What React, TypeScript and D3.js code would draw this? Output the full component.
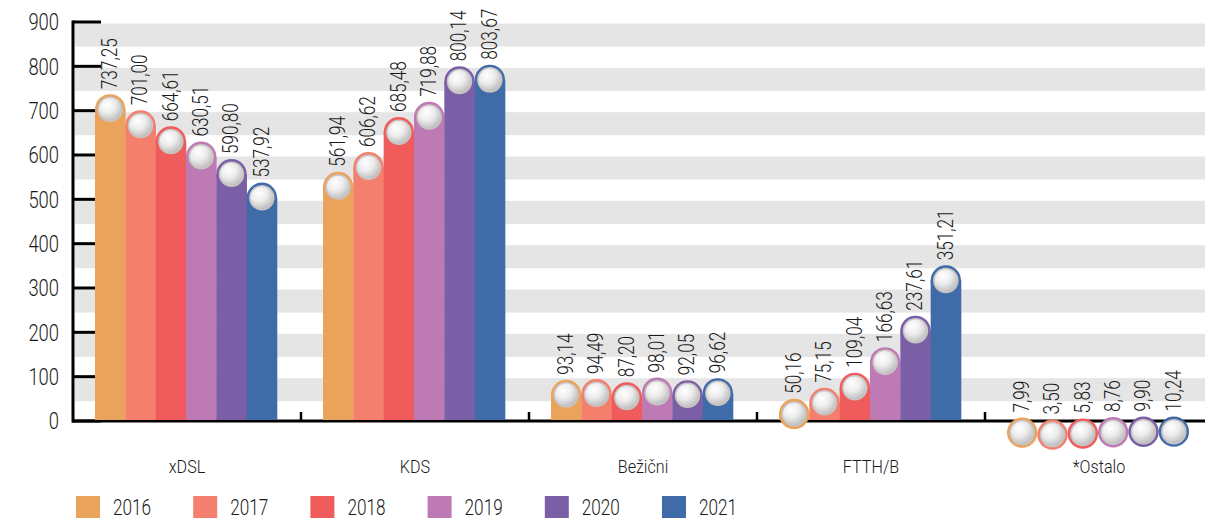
import React from "react";
import * as d3 from "d3";

const categories = ["xDSL", "KDS", "Bežični", "FTTH/B", "*Ostalo"];
const years = ["2016", "2017", "2018", "2019", "2020", "2021"];
const colors = ["#E9A35B", "#F37F6C", "#F05B5B", "#BE7AB4", "#7A5FA6", "#3F6CA9"];
const values2016 = [737.25, 561.94, 93.14, 50.16, 7.99];
const values2017 = [701.0, 606.62, 94.49, 75.15, 3.5];
const values2018 = [664.61, 685.48, 87.2, 109.04, 5.83];
const values2019 = [630.51, 719.88, 98.01, 166.63, 8.76];
const values2020 = [590.8, 800.14, 92.05, 237.61, 9.9];
const values2021 = [537.92, 803.67, 96.62, 351.21, 10.24];
const series = [values2016, values2017, values2018, values2019, values2020, values2021];
const yTicks = [0, 100, 200, 300, 400, 500, 600, 700, 800, 900];

const W = 1205;
const H = 518;
const FONT = "Roboto, 'Noto Sans', sans-serif";
const SX = 0.8;

const fmt = (v: number) => v.toFixed(2).replace(".", ",");

export default function App() {
  const y = d3.scaleLinear().domain([0, 900]).range([421, 22]);
  const x0 = d3.scaleBand<string>().domain(categories).range([73, 73 + 228 * 5]).paddingInner(0);
  const x1 = d3.scaleBand<string>().domain(years).range([22, 204]).paddingInner(0);
  const bw = x1.bandwidth();
  const r = bw / 2;
  const y0 = y(0);

  return (
    <svg width={W} height={H} style={{ position: "absolute", left: 0, top: 0, display: "block" }} fontFamily={FONT} fontWeight={300}>
      <defs>
        <radialGradient id="ball" cx="0.38" cy="0.32" r="0.75">
          <stop offset="0" stopColor="#ffffff" />
          <stop offset="0.45" stopColor="#ececec" />
          <stop offset="1" stopColor="#b4b4b4" />
        </radialGradient>
      </defs>
      <rect x={0} y={0} width={W} height={H} fill="#ffffff" />
      {/* grid bands */}
      {yTicks.filter((t) => t > 0).map((t) => (
        <rect key={"g" + t} x={75} y={y(t) + 1.5} width={W - 75} height={y(t - 52) - y(t)} fill="#e5e5e5" />
      ))}
      {/* y axis */}
      <line x1={73} x2={73} y1={20.5} y2={422.5} stroke="#000" strokeWidth={3} />
      {yTicks.map((t) => (
        <g key={"t" + t}>
          <line x1={73} x2={101} y1={y(t)} y2={y(t)} stroke="#000" strokeWidth={3} />
          <text transform={`translate(59,${y(t)}) scale(${SX},1)`} dy="0.36em" textAnchor="end" fontSize={23} fill="#1a1a1a">{t}</text>
        </g>
      ))}
      {/* x axis */}
      <line x1={72} x2={W} y1={y0} y2={y0} stroke="#000" strokeWidth={3} />
      {categories.slice(1).map((c) => (
        <line key={"xt" + c} x1={x0(c)!} x2={x0(c)!} y1={412} y2={y0} stroke="#000" strokeWidth={2.5} />
      ))}
      {categories.map((c) => (
        <text key={"xl" + c} transform={`translate(${x0(c)! + x0.bandwidth() / 2},473) scale(0.85,1)`} textAnchor="middle" fontSize={19} fill="#1a1a1a">{c}</text>
      ))}
      {/* bars */}
      {categories.map((c, ci) => (
        <g key={"c" + c} transform={`translate(${x0(c)},0)`}>
          {years.map((yr, si) => {
            const v = series[si][ci];
            const bx = x1(yr)!;
            const top = y(v);
            const cy = top + r;
            const cx = bx + r;
            return (
              <g key={yr}>
                {cy < y0 - 1 && (
                  <rect x={bx} y={cy} width={bw + 0.3} height={y0 - 1 - cy} fill={colors[si]} />
                )}
                <circle cx={cx} cy={cy} r={r} fill={colors[si]} />
                <circle cx={cx} cy={cy} r={12} fill="url(#ball)" stroke="#c9c4c4" strokeWidth={1.5} />
                <text
                  transform={`translate(${cx - 1},${top - 5}) rotate(-90) scale(0.78,1)`}
                  dy="0.36em"
                  textAnchor="start"
                  fontSize={22}
                  fill="#1a1a1a"
                >
                  {fmt(v)}
                </text>
              </g>
            );
          })}
        </g>
      ))}
      {/* legend */}
      {years.map((yr, i) => {
        const lx = 76 + i * 117.2;
        return (
          <g key={"lg" + yr}>
            <rect x={lx} y={496} width={24} height={26} fill={colors[i]} />
            <text transform={`translate(${lx + 37},515) scale(0.78,1)`} fontSize={22} fill="#1a1a1a">{yr}</text>
          </g>
        );
      })}
    </svg>
  );
}
